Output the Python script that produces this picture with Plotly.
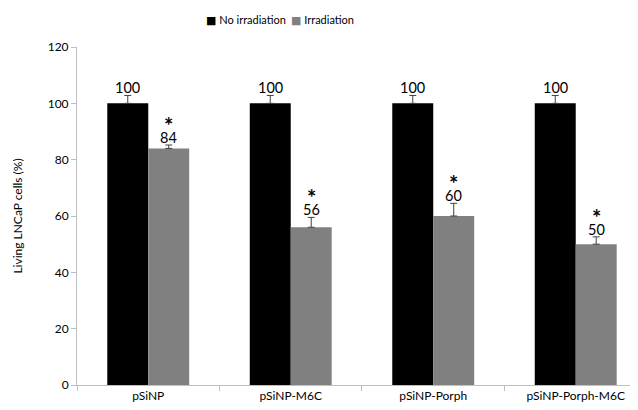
import plotly.graph_objects as go

categories = ["pSiNP", "pSiNP-M6C", "pSiNP-Porph", "pSiNP-Porph-M6C"]
no_irr = [100, 100, 100, 100]
no_irr_err = [2.8, 2.8, 2.8, 2.8]
irr = [84, 56, 60, 50]
irr_err = [1.2, 3.5, 4.5, 2.6]
y_ticks = [0, 20, 40, 60, 80, 100, 120]
series_names = ["No irradiation", "Irradiation"]
series_colors = ["#000000", "#808080"]

FONT = "Lato, Carlito, Calibri, 'Liberation Sans', sans-serif"
BW = 0.2875

fig = go.Figure()
fig.add_trace(go.Bar(
    name=series_names[0], x=categories, y=no_irr, marker_color=series_colors[0],
    marker_line_width=0, width=BW, offset=-BW,
    error_y=dict(type="data", array=no_irr_err, arrayminus=[0] * len(no_irr), symmetric=False,
                 visible=True, color="#404040", thickness=1, width=3.5),
))
fig.add_trace(go.Bar(
    name=series_names[1], x=categories, y=irr, marker_color=series_colors[1],
    marker_line_width=0, width=BW, offset=0,
    error_y=dict(type="data", array=irr_err, arrayminus=[0] * len(irr), symmetric=False,
                 visible=True, color="#404040", thickness=1, width=3.5),
))

ann = []
for i, (v, e) in enumerate(zip(no_irr, no_irr_err)):
    ann.append(dict(x=i - BW / 2, y=v + e, text=str(v), showarrow=False, yanchor="bottom",
                    yshift=-3, font=dict(size=14.5, color="#000000", family=FONT)))
for i, (v, e) in enumerate(zip(irr, irr_err)):
    ann.append(dict(x=i + BW / 2, y=v + e, text=str(v), showarrow=False, yanchor="bottom",
                    yshift=-3, font=dict(size=14.5, color="#000000", family=FONT)))
    ann.append(dict(x=i + BW / 2, y=v + e, text="<b>*</b>", showarrow=False, yanchor="bottom",
                    yshift=4, font=dict(size=22, color="#000000", family=FONT)))

# legend drawn as text entries with coloured square glyphs (tight symbol/text spacing)
legend_x = [0.2264, 0.3779]
for name, color, lx in zip(series_names, series_colors, legend_x):
    ann.append(dict(xref="paper", yref="paper", x=lx, y=1.08, xanchor="left", yanchor="middle",
                    showarrow=False,
                    text=f'<span style="color:{color};font-family:DejaVu Sans;font-size:11px">■</span> {name}',
                    font=dict(size=11, color="#000000", family=FONT)))

# page body has an 8px margin, so the figure is offset by 8px right and down
fig.update_layout(
    width=630, height=402,
    margin=dict(l=69, r=0, t=39, b=25, autoexpand=False),
    paper_bgcolor="white", plot_bgcolor="white",
    font=dict(family=FONT, size=12, color="#000000"),
    barmode="group",
    showlegend=False,
    annotations=ann,
)
fig.update_xaxes(
    range=[-0.5, 3.437], showline=True, linecolor="#bfbfbf", linewidth=1,
    ticks="outside", tickson="boundaries", ticklen=5, tickcolor="#bfbfbf",
    showgrid=False, tickfont=dict(size=12, color="#000000"), automargin=False,
)
fig.update_yaxes(
    range=[0, 120], tickvals=y_ticks, showline=True, linecolor="#bfbfbf", linewidth=1,
    ticks="outside", ticklen=5, tickcolor="#bfbfbf", showgrid=False, zeroline=False,
    tickfont=dict(size=12, color="#000000"), automargin=False,
    title=dict(text="Living LNCaP cells (%)", font=dict(size=12, color="#000000"), standoff=22),
)

fig.write_html("out.html")
